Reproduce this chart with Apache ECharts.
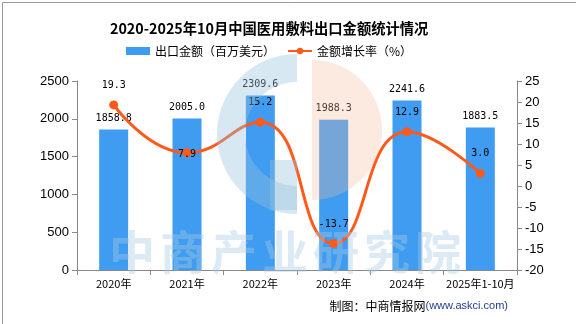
<!DOCTYPE html>
<html><head><meta charset="utf-8">
<script src="https://cdn.jsdelivr.net/npm/echarts@6/dist/echarts.min.js"></script>
<style>html,body{margin:0;padding:0;background:#fff}#c{width:576px;height:324px}</style>
</head><body><div id="c"></div>
<script>
var categories = ['2020年','2021年','2022年','2023年','2024年','2025年1-10月'];
var exportValues = [1858.8, 2005.0, 2309.6, 1988.3, 2241.6, 1883.5];
var growthRates = [19.3, 7.9, 15.2, -13.7, 12.9, 3.0];
var barName = '出口金额（百万美元）';
var lineName = '金额增长率（%）';
var watermarkChars = ['中','商','产','业','研','究','院'];

var chart = echarts.init(document.getElementById('c'));
var monoFont = '"DejaVu Sans Mono", "Noto Sans CJK SC", monospace';

var graphics = [
  // faint logo watermark (drawn over the chart, translucent)
  {type: 'ring', z: 10, silent: true, shape: {cx: 297, cy: 134, r: 80, r0: 52},
   style: {fill: 'rgba(150,195,222,0.38)'}, clipPath: {type: 'rect', shape: {x: 200, y: 50, width: 97, height: 170}}},
  {type: 'rect', z: 10, silent: true, shape: {x: 270, y: 160, width: 27, height: 50}, style: {fill: 'rgba(150,195,222,0.38)'}},
  {type: 'sector', z: 10, silent: true, shape: {cx: 312, cy: 130, r: 70, r0: 0, startAngle: -Math.PI / 2, endAngle: Math.PI / 2},
   style: {fill: 'rgba(245,185,155,0.3)'}},
  {type: 'text', right: 68, top: 300,
   style: {rich: {a: {fontSize: 12, fill: '#000', fontFamily: '"Noto Sans CJK SC", sans-serif'}, b: {fontSize: 11, fill: '#1F3F8F', fontFamily: '"Liberation Sans", Arial, sans-serif'}}, text: '{a|制图：中商情报网}{b|(www.askci.com)}'}},
  {type: 'rect', left: 0, top: 0, z: 100, silent: true, shape: {width: 575, height: 323}, style: {fill: 'none', stroke: '#999', lineWidth: 1}}
];
watermarkChars.forEach(function(ch, i){
  graphics.push({type: 'text', left: 109 + 51 * i, top: 229, z: 10, silent: true,
    style: {text: ch, fontSize: 46, fontWeight: 'bold', fill: 'rgba(165,203,228,0.4)', fontFamily: '"Noto Sans CJK SC", sans-serif'}});
});

chart.setOption({
  backgroundColor: '#fff',
  animation: false,
  title: {
    text: '2020-2025年10月中国医用敷料出口金额统计情况',
    left: 105, top: 16,
    textStyle: {fontSize: 14.3, fontWeight: 'bold', color: '#000', fontFamily: '"Noto Sans CJK SC", serif'}
  },
  legend: {
    left: 121, top: 40, itemGap: 12, itemWidth: 24, itemHeight: 8,
    textStyle: {fontSize: 12, color: '#000', fontFamily: '"Noto Sans CJK SC", sans-serif'},
    data: [{name: barName, icon: 'rect'}, {name: lineName}]
  },
  grid: {left: 77, right: 59, top: 81, bottom: 54},
  xAxis: {
    type: 'category', data: categories,
    axisLine: {lineStyle: {color: '#888'}},
    axisTick: {show: true, lineStyle: {color: '#888'}},
    axisLabel: {color: '#000', fontSize: 11, fontFamily: '"Noto Sans CJK SC", sans-serif', interval: 0}
  },
  yAxis: [{
    type: 'value', min: 0, max: 2500, interval: 500,
    axisLine: {show: true, lineStyle: {color: '#888'}},
    axisTick: {show: true, lineStyle: {color: '#888'}},
    splitLine: {show: false},
    axisLabel: {color: '#000', fontSize: 13, fontFamily: '"Liberation Sans", Arial, sans-serif', formatter: function(v){return String(v);}}
  }, {
    type: 'value', min: -20, max: 25, interval: 5,
    axisLine: {show: true, lineStyle: {color: '#888'}},
    axisTick: {show: true, lineStyle: {color: '#888'}},
    splitLine: {show: false},
    axisLabel: {color: '#000', fontSize: 13, fontFamily: '"Liberation Sans", Arial, sans-serif', formatter: function(v){return String(v);}}
  }],
  graphic: graphics,
  series: [{
    name: barName, type: 'bar', data: exportValues, barWidth: 29, z: 1,
    itemStyle: {color: '#3F9CF1'},
    label: {show: true, position: 'top', distance: 6, color: '#000', fontSize: 10, fontFamily: monoFont, formatter: function(p){return p.value.toFixed(1);}}
  }, {
    name: lineName, type: 'line', yAxisIndex: 1, smooth: true, z: 3,
    data: growthRates.map(function(v, i){
      return i === 1 ? {value: v, label: {position: 'inside', offset: [0, 2]}} : v;
    }),
    symbol: 'circle', symbolSize: 9,
    lineStyle: {color: '#FF5A1B', width: 3},
    itemStyle: {color: '#FF5A1B'},
    label: {show: true, position: 'top', distance: 10, color: '#000', fontSize: 10, fontFamily: monoFont, formatter: function(p){return p.value.toFixed(1);}}
  }]
});
</script></body></html>
